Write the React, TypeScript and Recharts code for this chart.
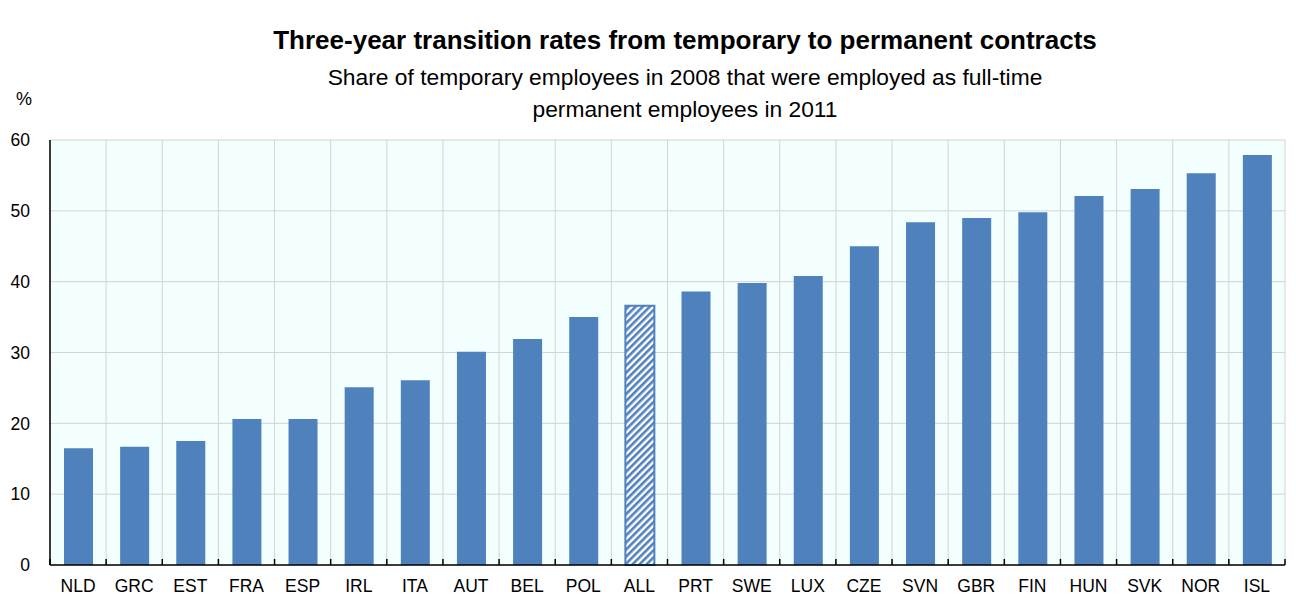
import React from 'react';
import { BarChart, Bar, XAxis, YAxis, CartesianGrid, Cell } from 'recharts';

const countries = ['NLD', 'GRC', 'EST', 'FRA', 'ESP', 'IRL', 'ITA', 'AUT', 'BEL', 'POL', 'ALL', 'PRT', 'SWE', 'LUX', 'CZE', 'SVN', 'GBR', 'FIN', 'HUN', 'SVK', 'NOR', 'ISL'];
const rates = [16.5, 16.7, 17.5, 20.6, 20.6, 25.1, 26.1, 30.1, 31.9, 35.0, 36.6, 38.6, 39.8, 40.8, 45.0, 48.4, 49.0, 49.8, 52.1, 53.1, 55.3, 57.9];
const yTicks = [0, 10, 20, 30, 40, 50, 60];
const highlight = 'ALL';

const FONT = '"Liberation Sans", Arial, sans-serif';
const BLUE = '#4f81bd';
const TICK_MARGIN = 15;

const boundaryTicks = countries.map((_, i) => i).concat([countries.length]);

const data = countries.map((c, i) => ({ country: c, value: rates[i] }));

// category label plus the small inward tick marks at the category boundaries
const CountryTick = (props: any) => {
  const { x, y, payload, index, width } = props;
  const band = (width || 1235) / countries.length;
  const axisY = y - TICK_MARGIN;
  const marks = [x - band / 2];
  if (index === countries.length - 1) marks.push(x + band / 2);
  return (
    <g>
      {marks.map((mx, i) => (
        <line key={i} x1={mx} x2={mx} y1={axisY} y2={axisY - 6} stroke="#000" strokeWidth={1.5} />
      ))}
      <text x={x} y={y} dy="0.71em" textAnchor="middle" fill="#000" fontSize={17.5} fontFamily={FONT}>
        {payload.value}
      </text>
    </g>
  );
};

export default function App() {
  return (
    <div style={{ position: 'absolute', left: 0, top: 0, width: 1296, height: 609, background: '#fff', fontFamily: FONT }}>
      <svg width={0} height={0} style={{ position: 'absolute' }}>
        <defs>
          <pattern id="hatch" patternUnits="userSpaceOnUse" width={5} height={5} patternTransform="rotate(45)">
            <rect width={5} height={5} fill="#ffffff" />
            <rect width={2.6} height={5} fill={BLUE} />
          </pattern>
        </defs>
      </svg>
      <div style={{ position: 'absolute', left: 0, width: 1370, top: 24, textAlign: 'center', fontWeight: 'bold', fontSize: 26, color: '#000', lineHeight: '32px' }}>
        Three-year transition rates from temporary to permanent contracts
      </div>
      <div style={{ position: 'absolute', left: 0, width: 1370, top: 61, textAlign: 'center', fontSize: 22.8, color: '#000', lineHeight: '32px' }}>
        Share of temporary employees in 2008 that were employed as full-time
        <br />
        permanent employees in 2011
      </div>
      <div style={{ position: 'absolute', left: 16, top: 89, fontSize: 18, color: '#000' }}>%</div>
      <BarChart
        width={1296}
        height={609}
        data={data}
        margin={{ top: 140, right: 11, bottom: 14, left: 0 }}
        barSize={29}
        style={{ fontFamily: FONT }}
      >
        <CartesianGrid
          stroke="#d4d4d4"
          strokeWidth={1}
          fill="#f3fefe"
          fillOpacity={1}
          verticalCoordinatesGenerator={({ offset }: any) =>
            boundaryTicks.map((i) => offset.left + (i * offset.width) / countries.length)
          }
        />
        <YAxis
          domain={[0, 60]}
          ticks={yTicks}
          width={50}
          tickLine={false}
          axisLine={{ stroke: '#000', strokeWidth: 1.5 }}
          tick={{ fill: '#000', fontSize: 17.5 }}
          tickMargin={14}
        />
        <Bar dataKey="value" isAnimationActive={false}>
          {data.map((d) => (
            <Cell
              key={d.country}
              fill={d.country === highlight ? 'url(#hatch)' : BLUE}
              stroke={d.country === highlight ? BLUE : 'none'}
              strokeWidth={d.country === highlight ? 2 : 0}
            />
          ))}
        </Bar>
        <XAxis
          dataKey="country"
          interval={0}
          tickLine={false}
          tickSize={0}
          axisLine={{ stroke: '#000', strokeWidth: 1.5 }}
          tick={<CountryTick />}
          tickMargin={TICK_MARGIN}
          height={30}
        />
      </BarChart>
    </div>
  );
}
